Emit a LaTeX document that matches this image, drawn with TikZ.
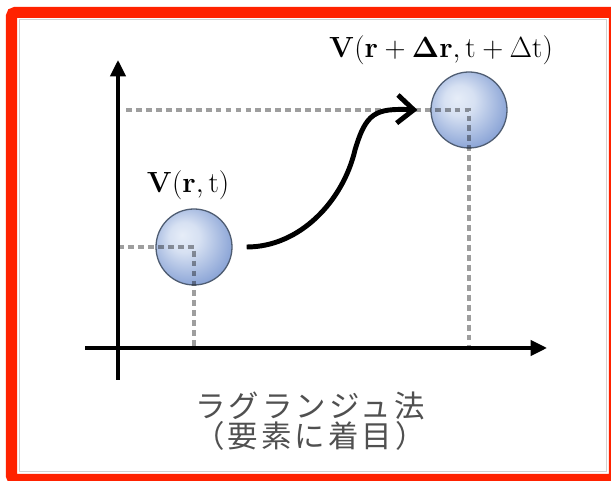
\documentclass[tikz,border=0pt]{standalone}
\usepackage[no-math]{fontspec}
\usetikzlibrary{arrows.meta}
\newfontfamily\jpfont[LetterSpace=10]{Noto Sans CJK JP}
\definecolor{framered}{HTML}{FF2200}
\definecolor{bubblelight}{HTML}{E6EDF8}
\definecolor{bubbledark}{HTML}{7F9BD2}
\definecolor{bubbleedge}{HTML}{4F5D72}
\definecolor{captiongray}{HTML}{505050}
\pgfdeclareradialshading{bubble}{\pgfpoint{-8bp}{8bp}}{%
  color(0bp)=(bubblelight); color(10bp)=(bubblelight!85!bubbledark);
  color(32bp)=(bubbledark); color(50bp)=(bubbledark)}

\begin{document}
\begin{tikzpicture}[x=0.03cm,y=0.03cm,
    bubblenode/.style={circle,draw=bubbleedge,line width=1.1pt,
      minimum size=2.28cm,inner sep=0pt,shading=bubble},
    guide/.style={black,opacity=.38,line width=2.8pt,dash pattern=on 5pt off 3.5pt},
    axis/.style={black,line width=3pt,-{Triangle[length=14pt,width=13pt]}},
    vlabel/.style={font=\fontsize{24}{26}\selectfont}]
    \useasboundingbox (0,0) rectangle (611,481);
    \fill[white] (0,0) rectangle (611,481);
    \draw[gray!35,line width=1.2pt] (19.5,9.5) rectangle (606.5,461.5);
    \draw[framered,line width=9.4pt,rounded corners=3pt]
      (11.5,1.5) rectangle (614.5,468.5);
    % axes
    \coordinate (xstart) at (85,133);
    \coordinate (xend) at (547,133);
    \coordinate (ystart) at (118,101);
    \coordinate (yend) at (118,421);
    \draw[axis] (xstart) -- (xend);
    \draw[axis] (ystart) -- (yend);
    % the two positions of the element
    \node[bubblenode] (elemA) at (194,234) {};
    \node[bubblenode] (elemB) at (469,371) {};
    \coordinate (guideB) at (126,371);
    \draw[guide] (elemA.center -| ystart) -- (elemA.center) -- (elemA.center |- xstart);
    \draw[guide] (guideB) -- (elemB.center) -- (elemB.center |- xstart);
    \node[vlabel] (labelA) at (188,296) {$\mathbf{V}(\mathbf{r},\mathrm{t})$};
    \node[vlabel] (labelB) at (441,431)
      {$\mathbf{V}(\mathbf{r}+\mathbf{\Delta r},\mathrm{t}+\Delta\mathrm{t})$};
    \draw[line width=4.2pt,-{Straight Barb[length=14pt,width=24pt]}]
      ([xshift=12pt]elemA.east) .. controls (300,234) and (343,280) .. (355,331)
      .. controls (366,368) and (375,373) .. ([xshift=-11pt]elemB.west);
    \node[font=\jpfont\fontsize{26}{24}\selectfont,text=captiongray,align=center]
      (caption) at (310,60) {ラグランジュ法\\（要素に着目）};
  \end{tikzpicture}
\end{document}
